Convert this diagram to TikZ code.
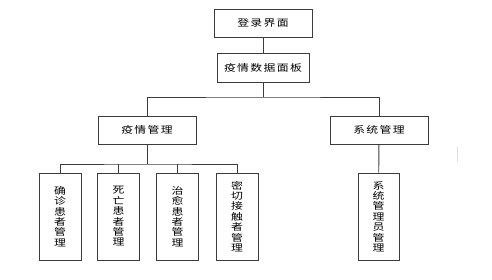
\documentclass[tikz,border=0pt]{standalone}
\usepackage{fontspec}
\newfontfamily\cjk[FakeStretch=1.25]{Noto Sans CJK SC}
\newfontfamily\cjkwide[FakeStretch=1.25,LetterSpace=14]{Noto Sans CJK SC}
\usetikzlibrary{positioning}
\definecolor{linegray}{RGB}{60,60,60}

\tikzset{
  box/.style={rectangle,draw=linegray,line width=0.9pt,fill=white,
    font=\cjkwide\fontsize{9.5pt}{12pt}\selectfont,inner sep=0pt},
  leafbox/.style={box,align=center,minimum width=42,minimum height=87,
    font=\cjk\fontsize{9.5pt}{10.4pt}\selectfont},
  link/.style={draw=linegray,line width=0.9pt}
}

\begin{document}
\begin{tikzpicture}[x=1pt,y=-1pt]
\useasboundingbox (0,0) rectangle (492,280);

% top levels
\node[box,minimum width=98,minimum height=28] (login) at (263,23) {登录界面};
\node[box,minimum width=92,minimum height=29] (panel) at (263,67.5) {疫情数据面板};

% second level
\node[box,minimum width=98,minimum height=28] (epi) at (147,130) {疫情管理};
\node[box,minimum width=98,minimum height=28] (sys) at (379,130) {系统管理};

% leaves
\node[leafbox] (conf) at (60,216.5) {确\\诊\\患\\者\\管\\理};
\node[leafbox] (dead) at (118.5,216.5) {死\\亡\\患\\者\\管\\理};
\node[leafbox] (cure) at (177.5,216.5) {治\\愈\\患\\者\\管\\理};
\node[leafbox] (cont) at (237,216.5) {密\\切\\接\\触\\者\\管\\理};
\node[leafbox,minimum width=41] (admin) at (378.5,216.5) {系\\统\\管\\理\\员\\管\\理};

% connectors
\coordinate (busA) at (263,97);
\coordinate (busB) at (147,164);
\draw[link] (login) -- (panel);
\draw[link] (panel) -- (busA);
\draw[link] (epi.north) |- (busA) -| (sys.north);
\draw[link] (epi) -- (busB);
\draw[link] (conf.north) |- (busB) -| (cont.north);
\foreach \leaf in {dead,cure}
  \draw[link] (\leaf.north) -- (\leaf.north |- busB);
\draw[link] (sys) -- (admin);

% faint mark at right
\draw[black!12,line width=1pt] (457,147) -- (457,162);
\end{tikzpicture}
\end{document}
